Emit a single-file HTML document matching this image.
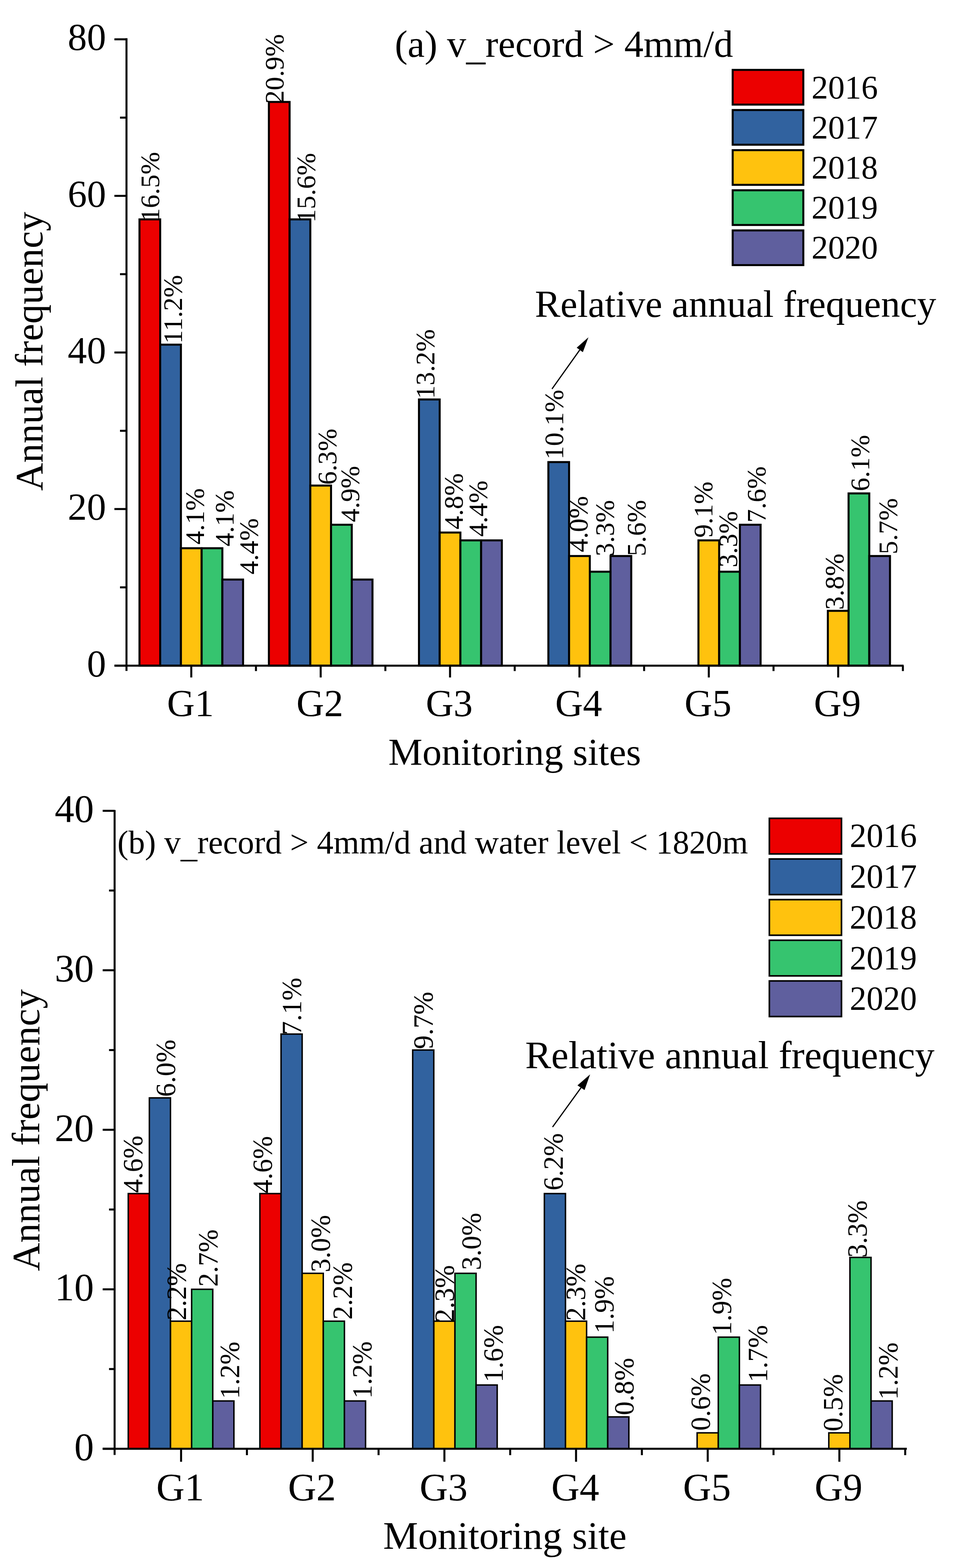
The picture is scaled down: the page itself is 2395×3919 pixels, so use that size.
<!DOCTYPE html>
<html><head><meta charset="utf-8"><title>Annual frequency charts</title>
<style>
html,body{margin:0;padding:0;background:#fff;}
svg{display:block;}
text{font-family:"Liberation Serif","Times New Roman",serif;fill:#000;}

</style></head><body>
<svg width="2395" height="3919" viewBox="0 0 2395 3919">
<rect width="2395" height="3919" fill="#fff"/>
<rect x="348.7" y="548.3" width="51.8" height="1115.4" fill="#EC0000" stroke="#000" stroke-width="5"/>
<rect x="672.2" y="254.8" width="51.8" height="1408.9" fill="#EC0000" stroke="#000" stroke-width="5"/>
<rect x="400.5" y="861.4" width="51.8" height="802.3" fill="#31629F" stroke="#000" stroke-width="5"/>
<rect x="724" y="548.3" width="51.8" height="1115.4" fill="#31629F" stroke="#000" stroke-width="5"/>
<rect x="1047.4" y="998.4" width="51.8" height="665.3" fill="#31629F" stroke="#000" stroke-width="5"/>
<rect x="1370.9" y="1154.9" width="51.8" height="508.8" fill="#31629F" stroke="#000" stroke-width="5"/>
<rect x="452.3" y="1370.2" width="51.8" height="293.5" fill="#FFC20E" stroke="#000" stroke-width="5"/>
<rect x="775.8" y="1213.6" width="51.8" height="450.1" fill="#FFC20E" stroke="#000" stroke-width="5"/>
<rect x="1099.2" y="1331" width="51.8" height="332.7" fill="#FFC20E" stroke="#000" stroke-width="5"/>
<rect x="1422.7" y="1389.7" width="51.8" height="274" fill="#FFC20E" stroke="#000" stroke-width="5"/>
<rect x="1746.1" y="1350.6" width="51.8" height="313.1" fill="#FFC20E" stroke="#000" stroke-width="5"/>
<rect x="2069.6" y="1526.7" width="51.8" height="137" fill="#FFC20E" stroke="#000" stroke-width="5"/>
<rect x="504.1" y="1370.2" width="51.8" height="293.5" fill="#36C46F" stroke="#000" stroke-width="5"/>
<rect x="827.6" y="1311.5" width="51.8" height="352.2" fill="#36C46F" stroke="#000" stroke-width="5"/>
<rect x="1151" y="1350.6" width="51.8" height="313.1" fill="#36C46F" stroke="#000" stroke-width="5"/>
<rect x="1474.5" y="1428.9" width="51.8" height="234.8" fill="#36C46F" stroke="#000" stroke-width="5"/>
<rect x="1797.9" y="1428.9" width="51.8" height="234.8" fill="#36C46F" stroke="#000" stroke-width="5"/>
<rect x="2121.4" y="1233.2" width="51.8" height="430.5" fill="#36C46F" stroke="#000" stroke-width="5"/>
<rect x="555.9" y="1448.5" width="51.8" height="215.2" fill="#5F5F9E" stroke="#000" stroke-width="5"/>
<rect x="879.4" y="1448.5" width="51.8" height="215.2" fill="#5F5F9E" stroke="#000" stroke-width="5"/>
<rect x="1202.8" y="1350.6" width="51.8" height="313.1" fill="#5F5F9E" stroke="#000" stroke-width="5"/>
<rect x="1526.3" y="1389.7" width="51.8" height="274" fill="#5F5F9E" stroke="#000" stroke-width="5"/>
<rect x="1849.7" y="1311.5" width="51.8" height="352.2" fill="#5F5F9E" stroke="#000" stroke-width="5"/>
<rect x="2173.2" y="1389.7" width="51.8" height="274" fill="#5F5F9E" stroke="#000" stroke-width="5"/>
<path d="M316.2 95.5V1677" stroke="#000" stroke-width="5" fill="none"/>
<path d="M286 1663.7H2259" stroke="#000" stroke-width="5" fill="none"/>
<path d="M286 1663.7H316.2M286 1272.3H316.2M286 881H316.2M286 489.6H316.2M286 98.3H316.2M300 1468H316.2M300 1076.7H316.2M300 685.3H316.2M300 293.9H316.2M478.2 1663.7V1693.2M801.7 1663.7V1693.2M1125.1 1663.7V1693.2M1448.6 1663.7V1693.2M1772 1663.7V1693.2M2095.5 1663.7V1693.2M639.9 1663.7V1677.2M963.4 1663.7V1677.2M1286.8 1663.7V1677.2M1610.3 1663.7V1677.2M1933.8 1663.7V1677.2M2257.2 1663.7V1677.2" stroke="#000" stroke-width="5" fill="none"/>
<text x="265.2" y="1690.7" font-size="96" text-anchor="end">0</text>
<text x="265.2" y="1299.3" font-size="96" text-anchor="end">20</text>
<text x="265.2" y="908" font-size="96" text-anchor="end">40</text>
<text x="265.2" y="516.6" font-size="96" text-anchor="end">60</text>
<text x="265.2" y="125.3" font-size="96" text-anchor="end">80</text>
<text x="476.2" y="1789.5" font-size="96" text-anchor="middle">G1</text>
<text x="799.7" y="1789.5" font-size="96" text-anchor="middle">G2</text>
<text x="1123.1" y="1789.5" font-size="96" text-anchor="middle">G3</text>
<text x="1446.6" y="1789.5" font-size="96" text-anchor="middle">G4</text>
<text x="1770" y="1789.5" font-size="96" text-anchor="middle">G5</text>
<text x="2093.5" y="1789.5" font-size="96" text-anchor="middle">G9</text>
<text x="970.7" y="1911.6" font-size="96">Monitoring sites</text>
<text transform="translate(106 878) rotate(-90)" font-size="97" text-anchor="middle">Annual frequency</text>
<text x="987" y="141.5" font-size="96">(a) v<tspan dy="7.5">_</tspan><tspan dy="-7.5">record</tspan> &gt; 4mm/d</text>
<rect x="1831.7" y="174.7" width="176.6" height="86.7" fill="#EC0000" stroke="#000" stroke-width="5"/>
<text x="2028.8" y="245.6" font-size="83">2016</text>
<rect x="1831.7" y="275" width="176.6" height="86.7" fill="#31629F" stroke="#000" stroke-width="5"/>
<text x="2028.8" y="345.8" font-size="83">2017</text>
<rect x="1831.7" y="375.3" width="176.6" height="86.7" fill="#FFC20E" stroke="#000" stroke-width="5"/>
<text x="2028.8" y="446" font-size="83">2018</text>
<rect x="1831.7" y="475.6" width="176.6" height="86.7" fill="#36C46F" stroke="#000" stroke-width="5"/>
<text x="2028.8" y="546.2" font-size="83">2019</text>
<rect x="1831.7" y="575.9" width="176.6" height="86.7" fill="#5F5F9E" stroke="#000" stroke-width="5"/>
<text x="2028.8" y="646.4" font-size="83">2020</text>
<text x="1337.2" y="792.3" font-size="95.6">Relative annual frequency</text>
<path d="M1380 972.2L1449.4 874.6" stroke="#000" stroke-width="3" fill="none"/>
<path d="M1471.1 843L1441.8 869L1457.1 880.2Z" fill="#000"/>
<text class="lb" transform="translate(397.8 554) rotate(-90)" font-size="67.5">16.5%</text>
<text class="lb" transform="translate(454.6 859.1) rotate(-90)" font-size="67.5">11.2%</text>
<text class="lb" transform="translate(510 1360.9) rotate(-90)" font-size="67.5">4.1%</text>
<text class="lb" transform="translate(584.2 1365.8) rotate(-90)" font-size="67.5">4.1%</text>
<text class="lb" transform="translate(644.5 1435.8) rotate(-90)" font-size="67.5">4.4%</text>
<text class="lb" transform="translate(708.8 259.5) rotate(-90)" font-size="67.5">20.9%</text>
<text class="lb" transform="translate(787.7 556.5) rotate(-90)" font-size="67.5">15.6%</text>
<text class="lb" transform="translate(840.5 1211.8) rotate(-90)" font-size="67.5">6.3%</text>
<text class="lb" transform="translate(898.3 1305) rotate(-90)" font-size="67.5">4.9%</text>
<text class="lb" transform="translate(1086.2 997.1) rotate(-90)" font-size="67.5">13.2%</text>
<text class="lb" transform="translate(1157.4 1323.3) rotate(-90)" font-size="67.5">4.8%</text>
<text class="lb" transform="translate(1217.9 1341.6) rotate(-90)" font-size="67.5">4.4%</text>
<text class="lb" transform="translate(1407.9 1148.4) rotate(-90)" font-size="67.5">10.1%</text>
<text class="lb" transform="translate(1468.7 1380.3) rotate(-90)" font-size="67.5">4.0%</text>
<text class="lb" transform="translate(1535.4 1390.4) rotate(-90)" font-size="67.5">3.3%</text>
<text class="lb" transform="translate(1614.2 1390.2) rotate(-90)" font-size="67.5">5.6%</text>
<text class="lb" transform="translate(1781 1344) rotate(-90)" font-size="67.5">9.1%</text>
<text class="lb" transform="translate(1843.4 1418.2) rotate(-90)" font-size="67.5">3.3%</text>
<text class="lb" transform="translate(1913.6 1306.2) rotate(-90)" font-size="67.5">7.6%</text>
<text class="lb" transform="translate(2108.7 1524.2) rotate(-90)" font-size="67.5">3.8%</text>
<text class="lb" transform="translate(2173.4 1227.7) rotate(-90)" font-size="67.5">6.1%</text>
<text class="lb" transform="translate(2242.8 1385.5) rotate(-90)" font-size="67.5">5.7%</text>
<rect x="320.6" y="2983.2" width="52.8" height="637.9" fill="#EC0000" stroke="#000" stroke-width="3.6"/>
<rect x="649.7" y="2983.2" width="52.8" height="637.9" fill="#EC0000" stroke="#000" stroke-width="3.6"/>
<rect x="373.4" y="2744" width="52.8" height="877.1" fill="#31629F" stroke="#000" stroke-width="3.6"/>
<rect x="702.6" y="2584.5" width="52.8" height="1036.5" fill="#31629F" stroke="#000" stroke-width="3.6"/>
<rect x="1031.7" y="2624.4" width="52.8" height="996.7" fill="#31629F" stroke="#000" stroke-width="3.6"/>
<rect x="1360.9" y="2983.2" width="52.8" height="637.9" fill="#31629F" stroke="#000" stroke-width="3.6"/>
<rect x="426.3" y="3302.1" width="52.8" height="318.9" fill="#FFC20E" stroke="#000" stroke-width="3.6"/>
<rect x="755.4" y="3182.5" width="52.8" height="438.5" fill="#FFC20E" stroke="#000" stroke-width="3.6"/>
<rect x="1084.6" y="3302.1" width="52.8" height="318.9" fill="#FFC20E" stroke="#000" stroke-width="3.6"/>
<rect x="1413.7" y="3302.1" width="52.8" height="318.9" fill="#FFC20E" stroke="#000" stroke-width="3.6"/>
<rect x="1742.8" y="3581.2" width="52.8" height="39.9" fill="#FFC20E" stroke="#000" stroke-width="3.6"/>
<rect x="2072" y="3581.2" width="52.8" height="39.9" fill="#FFC20E" stroke="#000" stroke-width="3.6"/>
<rect x="479.1" y="3222.4" width="52.8" height="398.7" fill="#36C46F" stroke="#000" stroke-width="3.6"/>
<rect x="808.3" y="3302.1" width="52.8" height="318.9" fill="#36C46F" stroke="#000" stroke-width="3.6"/>
<rect x="1137.4" y="3182.5" width="52.8" height="438.5" fill="#36C46F" stroke="#000" stroke-width="3.6"/>
<rect x="1466.5" y="3342" width="52.8" height="279.1" fill="#36C46F" stroke="#000" stroke-width="3.6"/>
<rect x="1795.7" y="3342" width="52.8" height="279.1" fill="#36C46F" stroke="#000" stroke-width="3.6"/>
<rect x="2124.8" y="3142.7" width="52.8" height="478.4" fill="#36C46F" stroke="#000" stroke-width="3.6"/>
<rect x="532" y="3501.5" width="52.8" height="119.6" fill="#5F5F9E" stroke="#000" stroke-width="3.6"/>
<rect x="861.1" y="3501.5" width="52.8" height="119.6" fill="#5F5F9E" stroke="#000" stroke-width="3.6"/>
<rect x="1190.2" y="3461.6" width="52.8" height="159.5" fill="#5F5F9E" stroke="#000" stroke-width="3.6"/>
<rect x="1519.4" y="3541.3" width="52.8" height="79.7" fill="#5F5F9E" stroke="#000" stroke-width="3.6"/>
<rect x="1848.5" y="3461.6" width="52.8" height="159.5" fill="#5F5F9E" stroke="#000" stroke-width="3.6"/>
<rect x="2177.7" y="3501.5" width="52.8" height="119.6" fill="#5F5F9E" stroke="#000" stroke-width="3.6"/>
<path d="M286.5 2024.5V3636.5" stroke="#000" stroke-width="5" fill="none"/>
<path d="M256.7 3621.1H2267" stroke="#000" stroke-width="5" fill="none"/>
<path d="M256.7 3621.1H286.5M256.7 3222.4H286.5M256.7 2823.7H286.5M256.7 2425.1H286.5M256.7 2026.4H286.5M272.6 3421.7H286.5M272.6 3023.1H286.5M272.6 2624.4H286.5M272.6 2225.7H286.5M452.7 3621.1V3653.6M781.8 3621.1V3653.6M1111 3621.1V3653.6M1440.1 3621.1V3653.6M1769.3 3621.1V3653.6M2098.4 3621.1V3653.6M617.3 3621.1V3637.1M946.4 3621.1V3637.1M1275.5 3621.1V3637.1M1604.7 3621.1V3637.1M1933.8 3621.1V3637.1M2263 3621.1V3637.1" stroke="#000" stroke-width="5" fill="none"/>
<text x="234.7" y="3649.1" font-size="98" text-anchor="end">0</text>
<text x="234.7" y="3250.4" font-size="98" text-anchor="end">10</text>
<text x="234.7" y="2851.7" font-size="98" text-anchor="end">20</text>
<text x="234.7" y="2453.1" font-size="98" text-anchor="end">30</text>
<text x="234.7" y="2054.4" font-size="98" text-anchor="end">40</text>
<text x="450.7" y="3750" font-size="98" text-anchor="middle">G1</text>
<text x="779.8" y="3750" font-size="98" text-anchor="middle">G2</text>
<text x="1109" y="3750" font-size="98" text-anchor="middle">G3</text>
<text x="1438.1" y="3750" font-size="98" text-anchor="middle">G4</text>
<text x="1767.3" y="3750" font-size="98" text-anchor="middle">G5</text>
<text x="2096.4" y="3750" font-size="98" text-anchor="middle">G9</text>
<text x="957.8" y="3871" font-size="98.3">Monitoring site</text>
<text transform="translate(98 2824.6) rotate(-90)" font-size="98" text-anchor="middle">Annual frequency</text>
<text x="293.4" y="2133" font-size="82.7">(b) v<tspan dy="8.5">_</tspan><tspan dy="-8.5">record</tspan> &gt; 4mm/d and water level &lt; 1820m</text>
<rect x="1923.4" y="2045.3" width="180.3" height="89" fill="#EC0000" stroke="#000" stroke-width="4"/>
<text x="2124.3" y="2117.1" font-size="84">2016</text>
<rect x="1923.4" y="2146.9" width="180.3" height="89" fill="#31629F" stroke="#000" stroke-width="4"/>
<text x="2124.3" y="2218.9" font-size="84">2017</text>
<rect x="1923.4" y="2248.5" width="180.3" height="89" fill="#FFC20E" stroke="#000" stroke-width="4"/>
<text x="2124.3" y="2320.7" font-size="84">2018</text>
<rect x="1923.4" y="2350.1" width="180.3" height="89" fill="#36C46F" stroke="#000" stroke-width="4"/>
<text x="2124.3" y="2422.5" font-size="84">2019</text>
<rect x="1923.4" y="2451.7" width="180.3" height="89" fill="#5F5F9E" stroke="#000" stroke-width="4"/>
<text x="2124.3" y="2524.3" font-size="84">2020</text>
<text x="1312.9" y="2669.5" font-size="97.5">Relative annual frequency</text>
<path d="M1381.4 2816.9L1452.5 2718.6" stroke="#000" stroke-width="3" fill="none"/>
<path d="M1475.3 2685.3L1443.7 2712.8L1461.3 2724.4Z" fill="#000"/>
<text class="lb" transform="translate(355.9 2981.4) rotate(-90)" font-size="68.8">4.6%</text>
<text class="lb" transform="translate(437.7 2741.4) rotate(-90)" font-size="68.8">6.0%</text>
<text class="lb" transform="translate(464.9 3300.3) rotate(-90)" font-size="68.8">2.2%</text>
<text class="lb" transform="translate(544.3 3216) rotate(-90)" font-size="68.8">2.7%</text>
<text class="lb" transform="translate(598 3496.4) rotate(-90)" font-size="68.8">1.2%</text>
<text class="lb" transform="translate(680.1 2982.7) rotate(-90)" font-size="68.8">4.6%</text>
<text class="lb" transform="translate(752.9 2586.7) rotate(-90)" font-size="68.8">7.1%</text>
<text class="lb" transform="translate(824.5 3180) rotate(-90)" font-size="68.8">3.0%</text>
<text class="lb" transform="translate(879.9 3298.3) rotate(-90)" font-size="68.8">2.2%</text>
<text class="lb" transform="translate(928.6 3495.7) rotate(-90)" font-size="68.8">1.2%</text>
<text class="lb" transform="translate(1081.5 2621.9) rotate(-90)" font-size="68.8">9.7%</text>
<text class="lb" transform="translate(1135.2 3305.2) rotate(-90)" font-size="68.8">2.3%</text>
<text class="lb" transform="translate(1202 3174.5) rotate(-90)" font-size="68.8">3.0%</text>
<text class="lb" transform="translate(1256.7 3455) rotate(-90)" font-size="68.8">1.6%</text>
<text class="lb" transform="translate(1406.7 2975.4) rotate(-90)" font-size="68.8">6.2%</text>
<text class="lb" transform="translate(1463.1 3301.5) rotate(-90)" font-size="68.8">2.3%</text>
<text class="lb" transform="translate(1534.2 3332.9) rotate(-90)" font-size="68.8">1.9%</text>
<text class="lb" transform="translate(1584 3537.1) rotate(-90)" font-size="68.8">0.8%</text>
<text class="lb" transform="translate(1774.6 3575.7) rotate(-90)" font-size="68.8">0.6%</text>
<text class="lb" transform="translate(1828.4 3336.9) rotate(-90)" font-size="68.8">1.9%</text>
<text class="lb" transform="translate(1918.4 3455) rotate(-90)" font-size="68.8">1.7%</text>
<text class="lb" transform="translate(2106 3577.6) rotate(-90)" font-size="68.8">0.5%</text>
<text class="lb" transform="translate(2167.4 3143.4) rotate(-90)" font-size="68.8">3.3%</text>
<text class="lb" transform="translate(2243.9 3498.4) rotate(-90)" font-size="68.8">1.2%</text>
</svg>
</body></html>
